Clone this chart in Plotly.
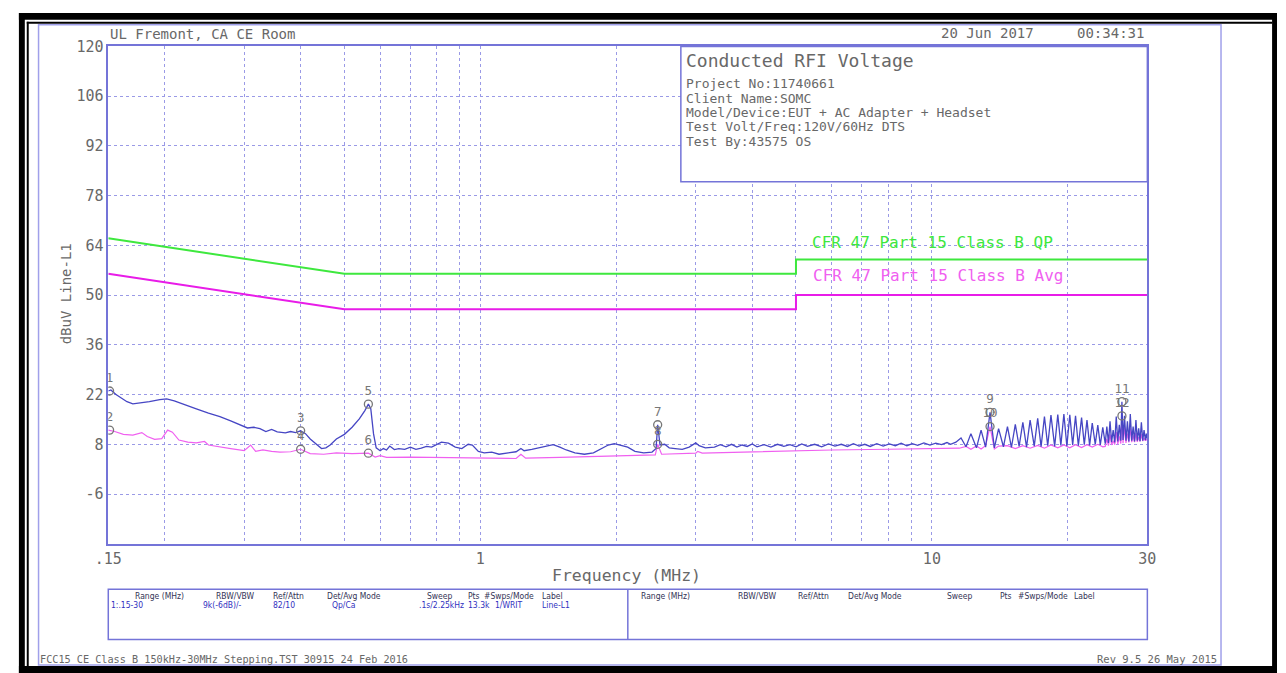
import plotly.graph_objects as go

W, H = 1286, 673

# ---------------- data ----------------
limit_freq = [0.15, 0.5, 5.0, 5.0, 30.0]
qp_limit = [66, 56, 56, 60, 60]
avg_limit = [56, 46, 46, 50, 50]

# peak (blue) trace, 0.15 - 3.15 MHz
peak_lf_freq = [0.150, 0.152, 0.156, 0.160, 0.165, 0.170, 0.178, 0.185, 0.195, 0.202,
                0.210, 0.220, 0.235, 0.250, 0.265, 0.280, 0.295, 0.305, 0.315, 0.325,
                0.335, 0.345, 0.355, 0.370, 0.380, 0.390, 0.400, 0.410, 0.420, 0.435,
                0.445, 0.455, 0.465, 0.480, 0.500, 0.520, 0.540, 0.555, 0.565, 0.572,
                0.580, 0.588, 0.600, 0.610, 0.620, 0.630, 0.645, 0.660, 0.680, 0.700,
                0.720, 0.740, 0.760, 0.780, 0.800, 0.820, 0.850, 0.880, 0.910, 0.940,
                0.960, 0.990, 1.02, 1.06, 1.10, 1.15, 1.20, 1.23, 1.25, 1.30,
                1.38, 1.45, 1.50, 1.55, 1.62, 1.70, 1.78, 1.85, 1.92, 1.98,
                2.05, 2.12, 2.20, 2.30, 2.40, 2.45, 2.47, 2.50, 2.56, 2.62,
                2.70, 2.80, 2.90, 3.00, 3.05, 3.15]
peak_lf_dbuv = [23.0, 23.3, 22.0, 21.0, 20.0, 19.4, 19.7, 20.0, 20.6, 20.8,
                20.2, 19.2, 18.0, 16.8, 15.8, 14.6, 13.4, 12.6, 12.8, 12.4,
                11.6, 12.2, 11.5, 11.2, 11.6, 11.3, 11.8, 11.0, 9.5, 7.8,
                6.8, 7.0, 7.8, 9.5, 10.8, 12.8, 15.2, 17.5, 19.3, 18.0,
                11.0, 7.0, 6.2, 6.8, 6.4, 7.5, 6.5, 6.8, 6.6, 7.2,
                6.6, 6.9, 7.4, 7.2, 8.0, 8.6, 8.3, 7.2, 6.8, 8.0,
                7.8, 6.0, 5.6, 5.8, 5.2, 5.6, 5.9, 6.8, 6.2, 6.6,
                7.4, 7.9, 7.2, 6.4, 5.6, 5.2, 5.6, 6.8, 7.8, 8.2,
                7.6, 7.2, 6.0, 5.6, 5.8, 6.8, 13.5, 7.8, 8.0, 7.0,
                6.8, 6.6, 7.2, 8.4, 7.6, 7.0]

# peak (blue) trace, 3.3 - 11.3 MHz (noisy floor)
peak_mid_freq = [3.30, 3.40, 3.50, 3.60, 3.70, 3.80, 3.90, 4.00, 4.10, 4.25,
                 4.40, 4.55, 4.70, 4.85, 5.00, 5.15, 5.30, 5.50, 5.70, 5.90,
                 6.10, 6.30, 6.50, 6.70, 6.90, 7.10, 7.30, 7.55, 7.80, 8.05,
                 8.30, 8.55, 8.80, 9.05, 9.30, 9.60, 9.90, 10.2, 10.5, 10.8,
                 11.0, 11.3]
peak_mid_dbuv = [7.2, 7.9, 7.3, 8.0, 7.2, 7.8, 7.4, 8.1, 7.3, 7.9,
                 7.2, 8.0, 7.4, 7.9, 7.3, 8.1, 7.4, 8.0, 7.3, 8.1,
                 7.5, 8.0, 7.4, 8.2, 7.5, 8.0, 7.4, 8.2, 7.5, 8.1,
                 7.6, 8.3, 7.6, 8.2, 7.7, 8.4, 7.8, 8.3, 7.9, 8.5,
                 8.0, 8.6]

# peak (blue) trace, 11.6 - 30 MHz (harmonic comb)
peak_hf_freq = [11.6, 11.9, 12.2, 12.55, 12.85, 13.15, 13.45, 13.75, 14.05, 14.4,
                14.7, 15.0, 15.3, 15.6, 15.9, 16.2, 16.5, 16.85, 17.15, 17.45,
                17.75, 18.05, 18.35, 18.7, 19.0, 19.3, 19.6, 19.9, 20.2, 20.5,
                20.8, 21.1, 21.45, 21.75, 22.05, 22.35, 22.65, 23.0, 23.3, 23.6,
                23.9, 24.2, 24.4, 24.6, 24.8, 25.0, 25.2, 25.4, 25.6, 25.8,
                26.0, 26.2, 26.35, 26.5, 26.7, 26.9, 27.1, 27.3, 27.5, 27.7,
                27.9, 28.1, 28.3, 28.5, 28.7, 28.9, 29.1, 29.3, 29.5, 29.7,
                29.85, 30.0]
peak_hf_dbuv = [9.8, 7.3, 11.0, 7.0, 12.0, 7.2, 17.0, 7.0, 12.4, 7.3,
                13.0, 7.1, 13.6, 7.4, 14.2, 7.2, 14.8, 7.5, 15.3, 7.3,
                15.8, 7.6, 16.2, 7.4, 16.4, 7.7, 16.5, 7.5, 16.3, 7.8,
                16.0, 7.6, 15.5, 7.9, 14.8, 7.7, 14.0, 8.0, 13.4, 7.8,
                12.8, 8.2, 13.0, 8.4, 14.5, 8.6, 12.0, 8.5, 15.8, 8.8,
                13.5, 9.0, 20.0, 9.2, 16.0, 9.0, 14.5, 8.8, 16.5, 9.0,
                13.0, 8.8, 14.8, 9.0, 12.5, 8.9, 14.2, 9.0, 12.0, 9.2,
                11.0, 9.6]

# average (pink) trace, 0.15 - 11.5 MHz
avg_lf_freq = [0.150, 0.155, 0.162, 0.170, 0.178, 0.183, 0.190, 0.197, 0.203, 0.208,
               0.215, 0.225, 0.235, 0.245, 0.250, 0.260, 0.280, 0.300, 0.310, 0.318,
               0.330, 0.345, 0.360, 0.380, 0.400, 0.420, 0.450, 0.480, 0.520, 0.565,
               0.585, 0.600, 0.620, 0.700, 0.800, 0.900, 1.00, 1.20, 1.23, 1.26,
               1.50, 1.80, 2.20, 2.44, 2.47, 2.52, 3.00, 3.03, 3.10, 4.00,
               5.00, 6.00, 8.00, 10.0, 11.5]
avg_lf_dbuv = [12.0, 11.6, 10.8, 10.6, 11.3, 10.2, 9.4, 9.6, 12.0, 11.4,
               9.2, 8.6, 8.4, 8.8, 7.8, 7.4, 6.8, 6.2, 7.8, 6.0,
               6.4, 6.0, 5.8, 5.9, 6.6, 5.4, 5.2, 5.6, 5.4, 5.5,
               4.4, 4.8, 4.3, 4.4, 4.3, 4.2, 4.0, 4.0, 5.2, 4.1,
               4.3, 4.5, 4.8, 5.0, 8.0, 5.2, 5.5, 6.0, 5.5, 5.9,
               6.2, 6.4, 6.6, 6.8, 6.9]

# average (pink) trace, 11.9 - 30 MHz
avg_hf_freq = [11.9, 12.2, 12.55, 12.85, 13.15, 13.45, 13.75, 14.05, 14.7, 15.3,
               15.9, 16.5, 17.15, 17.75, 18.35, 19.0, 19.6, 20.2, 20.8, 21.45,
               22.05, 22.65, 23.3, 23.9, 24.2, 24.4, 24.6, 24.8, 25.0, 25.2,
               25.4, 25.6, 25.8, 26.0, 26.2, 26.35, 26.5, 26.7, 26.9, 27.1,
               27.3, 27.5, 27.7, 27.9, 28.1, 28.3, 28.5, 28.7, 28.9, 29.1,
               29.3, 29.5, 29.7, 29.85, 30.0]
avg_hf_dbuv = [7.4, 6.6, 7.5, 6.7, 7.6, 13.0, 6.7, 7.5, 7.6, 6.8,
               7.6, 6.9, 7.7, 6.9, 7.8, 7.0, 7.8, 7.0, 7.9, 7.1,
               7.9, 7.2, 8.0, 7.3, 7.4, 9.5, 7.6, 10.8, 7.8, 9.0,
               7.9, 11.5, 8.0, 10.2, 8.2, 16.0, 8.3, 12.8, 8.4, 11.0,
               8.5, 12.5, 8.6, 10.5, 8.6, 11.2, 8.7, 10.0, 8.8, 10.8,
               8.9, 9.8, 9.0, 9.4, 9.2]

marker_ids = ["1", "2", "3", "4", "5", "6", "7", "8", "9", "10", "11", "12"]
marker_freq = [0.151, 0.151, 0.40, 0.40, 0.565, 0.565, 2.47, 2.47, 13.45, 13.45, 26.35, 26.35]
marker_dbuv = [23.0, 12.0, 11.8, 6.6, 19.3, 5.5, 13.5, 8.0, 17.0, 13.0, 20.0, 16.0]

y_ticks = [-20, -6, 8, 22, 36, 50, 64, 78, 92, 106, 120]
y_ticktext = ["", "-6", "8", "22", "36", "50", "64", "78", "92", "106", "120"]
x_grid = [0.15, 0.2, 0.3, 0.4, 0.5, 0.6, 0.7, 0.8, 0.9, 1, 2, 3, 4, 5, 6, 7, 8, 9, 10, 20, 30]
x_ticktext = [".15", "", "", "", "", "", "", "", "", "1", "", "", "", "", "", "", "", "", "10", "", "30"]

info_lines = ["Project No:11740661", "Client Name:SOMC",
              "Model/Device:EUT + AC Adapter + Headset",
              "Test Volt/Freq:120V/60Hz DTS", "Test By:43575 OS"]

table_headers = ["Range (MHz)", "RBW/VBW", "Ref/Attn", "Det/Avg Mode", "Sweep", "Pts", "#Swps/Mode", "Label"]
table_values = ["1:.15-30", "9k(-6dB)/-", "82/10", "Qp/Ca", ".1s/2.25kHz", "13.3k", "1/WRIT", "Line-L1"]

# ---------------- styling ----------------
MONO = "DejaVu Sans Mono"
NARROW = "Liberation Sans Narrow, DejaVu Sans Condensed, DejaVu Sans"
GRAY = "#686868"
FRAME = "#7474d8"
GRID = "#9a9ae6"
BLUE = "#4646c4"
PINK = "#f060f0"
GREEN = "#3ee83e"
MAGENTA = "#e81ce8"


def px(x):
    return x / W


def py(y):
    return 1 - y / H


fig = go.Figure()

fig.add_trace(go.Scatter(x=limit_freq, y=qp_limit, mode="lines",
                         line=dict(color=GREEN, width=2), hoverinfo="skip"))
fig.add_trace(go.Scatter(x=limit_freq, y=avg_limit, mode="lines",
                         line=dict(color=MAGENTA, width=2), hoverinfo="skip"))
fig.add_trace(go.Scatter(x=avg_lf_freq + avg_hf_freq, y=avg_lf_dbuv + avg_hf_dbuv,
                         mode="lines", line=dict(color=PINK, width=1.2)))
fig.add_trace(go.Scatter(x=peak_lf_freq + peak_mid_freq + peak_hf_freq,
                         y=peak_lf_dbuv + peak_mid_dbuv + peak_hf_dbuv,
                         mode="lines", line=dict(color=BLUE, width=1.3)))
fig.add_trace(go.Scatter(x=marker_freq, y=marker_dbuv, mode="markers+text",
                         text=marker_ids, textposition="top center",
                         textfont=dict(family=MONO, size=12.5, color="#777777"),
                         marker=dict(symbol="circle-open", size=8,
                                     color="#777777", line=dict(width=1.3))))

fig.update_layout(
    width=W, height=H, showlegend=False,
    paper_bgcolor="white", plot_bgcolor="white",
    margin=dict(l=0, r=0, t=0, b=0),
    xaxis=dict(type="log", range=[-0.82391, 1.47712],
               domain=[px(96), px(1154)],
               tickvals=x_grid, ticktext=x_ticktext, ticks="", ticklen=0,
               tickfont=dict(family=MONO, size=15, color=GRAY),
               showgrid=True, gridcolor=GRID, griddash="dot", gridwidth=1,
               showline=True, linecolor=FRAME, linewidth=1.5, mirror=True,
               zeroline=False),
    yaxis=dict(range=[-20, 120], domain=[py(542), py(38)],
               tickvals=y_ticks, ticktext=y_ticktext, ticks="", ticklen=0,
               tickfont=dict(family=MONO, size=15, color=GRAY),
               showgrid=True, gridcolor=GRID, griddash="dot", gridwidth=1,
               showline=True, linecolor=FRAME, linewidth=1.5, mirror=True,
               zeroline=False),
)

shapes = []
# black double border
for (x0, y0, x1, y1) in [(5, 4, 1286, 11), (5, 4, 11, 673), (1281, 4, 1286, 673),
                         (5, 666, 1286, 673), (13, 13, 1281, 15), (13, 13, 15, 666)]:
    shapes.append(dict(type="rect", xref="paper", yref="paper",
                       x0=px(x0), x1=px(x1), y0=py(y1), y1=py(y0),
                       fillcolor="black", line=dict(width=0), layer="above"))
# inner plotter frame
shapes.append(dict(type="rect", xref="paper", yref="paper",
                   x0=px(25), x1=px(1229), y0=py(665), y1=py(16),
                   line=dict(color="#a0a0ea", width=1.5)))
# info box
shapes.append(dict(type="rect", xref="paper", yref="paper",
                   x0=px(679), x1=px(1154), y0=py(175), y1=py(38),
                   fillcolor="white", line=dict(color=FRAME, width=1.5), layer="above"))
# bottom table box
shapes.append(dict(type="rect", xref="paper", yref="paper",
                   x0=px(96), x1=px(1154), y0=py(639), y1=py(588),
                   line=dict(color=FRAME, width=1.5)))
shapes.append(dict(type="line", xref="paper", yref="paper",
                   x0=px(625), x1=px(625), y0=py(639), y1=py(588),
                   line=dict(color=FRAME, width=1.5)))
fig.update_layout(shapes=shapes)

ann = []


def text(t, x, y, size, color=GRAY, family=MONO, xanchor="left", angle=0):
    ann.append(dict(text=t, x=px(x), y=py(y), xref="paper", yref="paper",
                    xanchor=xanchor, yanchor="middle", showarrow=False,
                    textangle=angle, font=dict(family=family, size=size, color=color)))


text("UL Fremont, CA CE Room", 96, 25, 14)
text("20 Jun 2017", 1041, 24, 14, xanchor="right")
text("00:34:31", 1153, 24, 14, xanchor="right")
text("Conducted RFI Voltage", 682, 52, 18)
for i, line in enumerate(info_lines):
    text(line, 682, 76 + i * 14.5, 13)
text("dBuV Line-L1", 43, 289, 14, angle=-90)
text("Frequency (MHz)", 624, 574, 16.5, xanchor="center")
text("CFR 47 Part 15 Class B QP", 810, 237, 16, color=GREEN)
text("CFR 47 Part 15 Class B Avg", 812, 270, 16, color=PINK)

hdr_x_left = [121, 204, 262, 317, 418, 460, 477, 536]
val_x_left = [97, 190, 262, 322, 410, 460, 488, 536]
hdr_x_right = [636, 735, 796, 847, 948, 1002, 1020, 1077]
for h, x in zip(table_headers, hdr_x_left):
    text(h, x, 595, 8.5, color="#333355", family=NARROW)
for v, x in zip(table_values, val_x_left):
    text(v, x, 604, 8.5, color="#3030c0", family=NARROW)
for h, x in zip(table_headers, hdr_x_right):
    text(h, x, 595, 8.5, color="#333355", family=NARROW)

text("FCC15 CE Class B 150kHz-30MHz Stepping.TST 30915 24 Feb 2016", 24, 659, 10.2)
text("Rev 9.5 26 May 2015", 1227, 659, 10.5, xanchor="right")

fig.update_layout(annotations=ann)
fig.write_html(
    "out.html",
    config={"displayModeBar": False},
    post_script="document.body.style.margin='0';document.body.style.overflow='hidden';",
)
